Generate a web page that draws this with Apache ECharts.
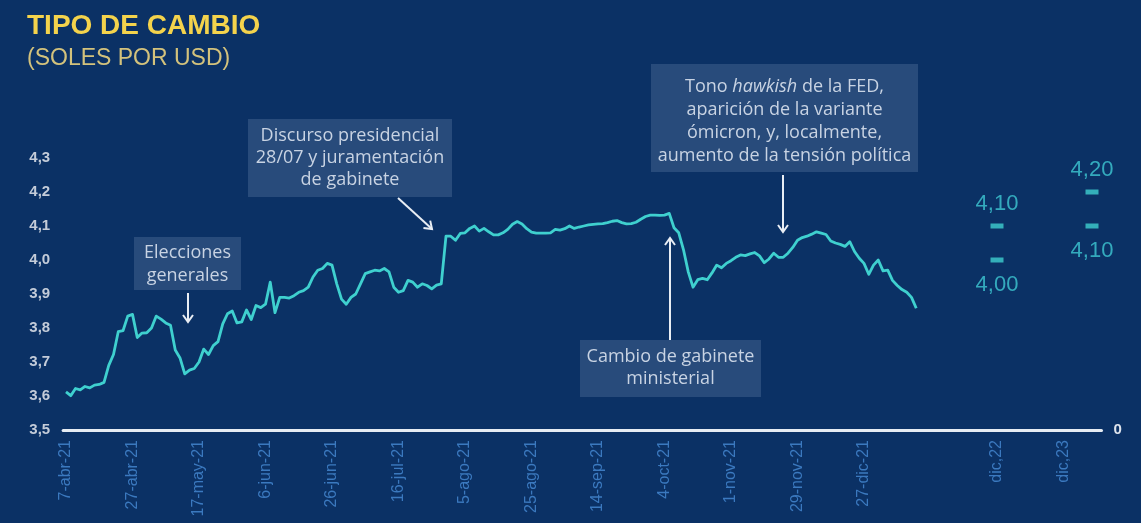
<!DOCTYPE html>
<html>
<head>
<meta charset="utf-8">
<script src="https://cdn.jsdelivr.net/npm/echarts@6/dist/echarts.min.js"></script>
<style>
  html, body { margin: 0; padding: 0; background: #0b3165; }
  #chart { width: 1141px; height: 523px; }
</style>
</head>
<body>
<div id="chart"></div>
<script>
// Daily USD/PEN exchange rate, from 7 April 2021 onward (one value per trading day)
const usdPen = [
  3.612, 3.601, 3.622, 3.618, 3.628, 3.624, 3.632, 3.634, 3.640, 3.690,
  3.722, 3.789, 3.792, 3.835, 3.840, 3.772, 3.785, 3.786, 3.800, 3.835,
  3.826, 3.815, 3.808, 3.735, 3.712, 3.665, 3.676, 3.681, 3.700, 3.738,
  3.722, 3.748, 3.760, 3.812, 3.842, 3.850, 3.815, 3.818, 3.853, 3.825,
  3.866, 3.860, 3.870, 3.935, 3.845, 3.890, 3.890, 3.888, 3.895, 3.905,
  3.910, 3.920, 3.950, 3.970, 3.975, 3.990, 3.985, 3.930, 3.885, 3.870,
  3.890, 3.900, 3.930, 3.960, 3.965, 3.970, 3.968, 3.975, 3.965, 3.920,
  3.905, 3.910, 3.940, 3.935, 3.920, 3.930, 3.925, 3.915, 3.926, 3.930,
  4.070, 4.070, 4.058, 4.078, 4.080, 4.093, 4.100, 4.085, 4.093, 4.083,
  4.074, 4.074, 4.080, 4.090, 4.105, 4.113, 4.106, 4.092, 4.082, 4.079,
  4.079, 4.079, 4.080, 4.090, 4.088, 4.092, 4.100, 4.093, 4.097, 4.100,
  4.103, 4.105, 4.106, 4.107, 4.110, 4.114, 4.116, 4.110, 4.106, 4.107,
  4.111, 4.120, 4.128, 4.132, 4.132, 4.131, 4.132, 4.137, 4.095, 4.080,
  4.030, 3.965, 3.920, 3.942, 3.946, 3.942, 3.962, 3.985, 3.977, 3.990,
  3.998, 4.008, 4.015, 4.013, 4.018, 4.022, 4.012, 3.992, 4.003, 4.020,
  4.008, 4.008, 4.020, 4.037, 4.058, 4.066, 4.070, 4.076, 4.083, 4.079,
  4.075, 4.056, 4.050, 4.046, 4.040, 4.054, 4.025, 4.005, 3.990, 3.958,
  3.985, 4.000, 3.968, 3.970, 3.940, 3.925, 3.913, 3.905, 3.890, 3.858
];

// Date labels, one every 14 trading days (one slot left blank)
const tickLabels = [
  '7-abr-21', '27-abr-21', '17-may-21', '6-jun-21', '26-jun-21', '16-jul-21',
  '5-ago-21', '25-ago-21', '14-sep-21', '4-oct-21', '1-nov-21', '29-nov-21',
  '27-dic-21', '', 'dic,22', 'dic,23'
];

// Year-end forecast ranges
const forecastLabels = ['dic,22', 'dic,23'];
const forecastLow = [4.00, 4.10];
const forecastHigh = [4.10, 4.20];

// ---- layout ----
const TICK_STEP = 14;
const FORECAST_POS = [196, 216];
const X_MIN = -0.6, X_MAX = 218;
const BG = '#0b3165';
const CYAN = '#3fd0cf';
const ANNOT_FILL = '#284b7b';
const ANNOT_TEXT = '#c8d3e3';
const ARROW = '#e8edf4';
const ANNOT_FONT = '18px "Open Sans", sans-serif';
const SANS = '"Liberation Sans", Arial, sans-serif';

const tickPositions = tickLabels
  .map((t, k) => (t ? k * TICK_STEP : null))
  .filter(v => v !== null);

const lineData = usdPen.map((v, i) => [i, v]);

const forecastData = [];
forecastLabels.forEach((name, k) => {
  forecastData.push({
    value: [FORECAST_POS[k], forecastHigh[k]],
    label: { position: 'top', distance: 9 }
  });
  forecastData.push({
    value: [FORECAST_POS[k], forecastLow[k]],
    label: { position: 'bottom', distance: 11 }
  });
});

const fmt1 = v => v.toFixed(1).replace('.', ',');
const fmt2 = v => v.toFixed(2).replace('.', ',');

function box(x, y, w, h, text, cx, top, lh, rich) {
  const t = {
    type: 'text',
    style: {
      text: text, x: cx, y: top,
      font: ANNOT_FONT, fill: ANNOT_TEXT,
      align: 'center', verticalAlign: 'top', lineHeight: lh
    }
  };
  if (rich) t.style.rich = rich;
  return [
    { type: 'rect', shape: { x: x, y: y, width: w, height: h }, style: { fill: ANNOT_FILL } },
    t
  ];
}

function arrow(x1, y1, x2, y2) {
  const dx = x2 - x1, dy = y2 - y1;
  const len = Math.sqrt(dx * dx + dy * dy);
  const ux = dx / len, uy = dy / len;
  const px = -uy, py = ux;
  const bx = x2 - ux * 7, by = y2 - uy * 7;
  return [
    { type: 'polyline', shape: { points: [[x1, y1], [x2, y2]] }, style: { stroke: ARROW, lineWidth: 2, fill: null } },
    { type: 'polyline', shape: { points: [[bx + px * 5, by + py * 5], [x2, y2], [bx - px * 5, by - py * 5]] },
      style: { stroke: ARROW, lineWidth: 2, fill: null } }
  ];
}

const chart = echarts.init(document.getElementById('chart'), null, { renderer: 'canvas' });

const option = {
  backgroundColor: BG,
  animation: false,
  title: [
    {
      text: 'TIPO DE CAMBIO', left: 27, top: 12, padding: 0,
      textStyle: { color: '#f4d34c', fontSize: 28, fontWeight: 'bold', fontFamily: SANS }
    },
    {
      text: '(SOLES POR USD)', left: 27, top: 47, padding: 0,
      textStyle: { color: '#d3c27c', fontSize: 23, fontWeight: 'normal', fontFamily: SANS }
    }
  ],
  grid: { left: 63.15, right: 39.5, top: 158, bottom: 93, containLabel: false },
  xAxis: {
    type: 'value', min: X_MIN, max: X_MAX,
    splitLine: { show: false },
    axisLine: { show: true, onZero: false, lineStyle: { color: '#e6ecf3', width: 3 } },
    axisTick: { show: false },
    axisLabel: {
      customValues: tickPositions,
      formatter: v => tickLabels[Math.round(v / TICK_STEP)] || '',
      rotate: 90, margin: 10, color: '#3b79bf', fontSize: 16,
      fontFamily: SANS
    }
  },
  yAxis: [
    {
      type: 'value', min: 3.5, max: 4.3, interval: 0.1,
      splitLine: { show: false }, axisLine: { show: false }, axisTick: { show: false },
      axisLabel: {
        formatter: fmt1, margin: 13, color: '#c4ccd9', fontSize: 15, fontWeight: 'bold',
        fontFamily: SANS
      }
    },
    {
      type: 'value', position: 'right', min: 0, max: 1, interval: 1,
      splitLine: { show: false }, axisLine: { show: false }, axisTick: { show: false },
      axisLabel: {
        formatter: v => (v === 0 ? '0' : ''), margin: 12, color: '#dde3ec', fontSize: 15, fontWeight: 'bold',
        fontFamily: SANS
      }
    }
  ],
  series: [
    {
      name: 'USD/PEN', type: 'line', data: lineData, yAxisIndex: 0,
      showSymbol: false, symbol: 'none',
      lineStyle: { color: CYAN, width: 2.8, join: 'round' }
    },
    {
      name: 'Proyección', type: 'scatter', data: forecastData, yAxisIndex: 0,
      symbol: 'rect', symbolSize: [13, 5],
      itemStyle: { color: CYAN },
      label: {
        show: true, formatter: p => fmt2(p.value[1]),
        color: '#3fc9d3', fontSize: 22, fontFamily: SANS
      }
    }
  ],
  graphic: [].concat(
    box(134, 237, 107, 53, 'Elecciones\ngenerales', 187.5, 241, 23),
    box(248, 119, 204, 78, 'Discurso presidencial\n28/07 y juramentación\nde gabinete', 350, 125, 22),
    box(651, 64, 267, 108, 'Tono {i|hawkish} de la FED,\naparición de la variante\nómicron, y, localmente,\naumento de la tensión política', 784.5, 75, 23,
      { i: { fontStyle: 'italic', fontSize: 18, fontFamily: '"Open Sans", sans-serif', fill: ANNOT_TEXT, color: ANNOT_TEXT, lineHeight: 23 } }),
    box(580, 340, 181, 57, 'Cambio de gabinete\nministerial', 670.5, 346, 22),
    arrow(188, 293, 188, 322),
    arrow(398, 198, 432, 229),
    arrow(670, 340, 670, 238),
    arrow(783, 175, 783, 232)
  )
};

chart.setOption(option);
</script>
</body>
</html>
